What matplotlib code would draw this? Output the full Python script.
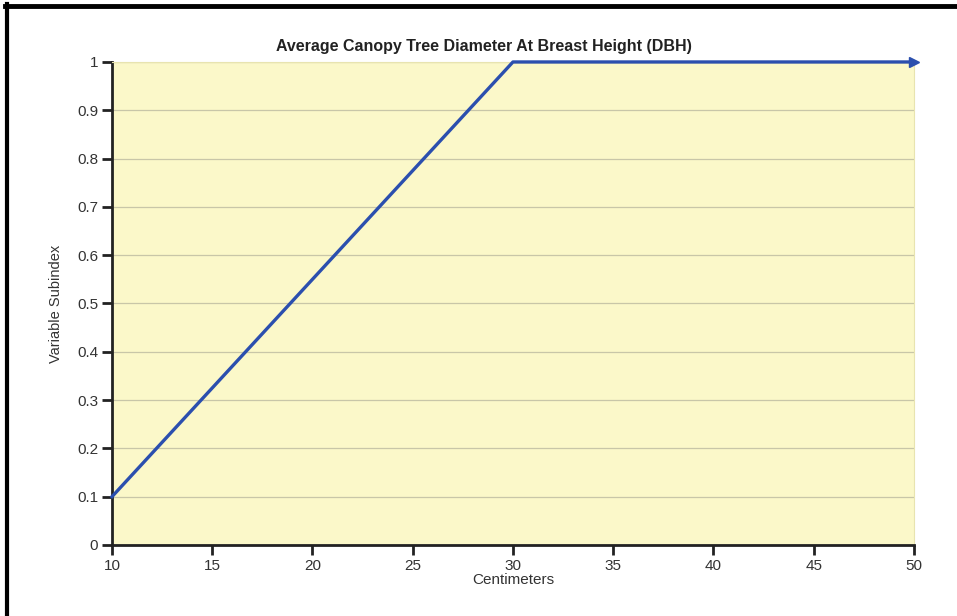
#!/usr/bin/env python3

import matplotlib.pyplot as plt
from matplotlib.lines import Line2D

# data
centimeters = [10, 30, 50]
subindex = [0.1, 1.0, 1.0]
x_ticks = [10, 15, 20, 25, 30, 35, 40, 45, 50]
y_ticks = [0, 0.1, 0.2, 0.3, 0.4, 0.5, 0.6, 0.7, 0.8, 0.9, 1]
y_labels = ["0", "0.1", "0.2", "0.3", "0.4", "0.5", "0.6", "0.7", "0.8", "0.9", "1"]


def main():
    plt.rcParams['font.family'] = ['Liberation Sans', 'DejaVu Sans']
    fig = plt.figure(figsize=(9.57, 6.16), dpi=100)
    ax = fig.add_axes([0.117, 0.1153, 0.838, 0.7841])
    ax.set_facecolor("#fbf8c9")

    # line with an arrow head on the last point
    ax.plot(centimeters, subindex, color="#2b4fae", linewidth=2.4,
            marker=">", markevery=[len(centimeters) - 1], markersize=7,
            clip_on=False, zorder=3)

    ax.set_xlim(10, 50)
    ax.set_ylim(0, 1)
    ax.set_xticks(x_ticks)
    ax.set_yticks(y_ticks)
    ax.set_yticklabels(y_labels)
    ax.grid(axis="y", color="#c8c6a8", linewidth=0.9)
    ax.set_axisbelow(True)

    for side in ["top", "right"]:
        ax.spines[side].set_color("#e8e4b0")
        ax.spines[side].set_linewidth(0.8)
    for side in ["left", "bottom"]:
        ax.spines[side].set_color("#222222")
        ax.spines[side].set_linewidth(2)
    ax.tick_params(direction="out", length=7, width=2, color="#222222",
                   labelsize=11, labelcolor="#333333", pad=3)

    ax.set_xlabel("Centimeters", fontsize=11, color="#333333", labelpad=0)
    ax.set_ylabel("Variable Subindex", fontsize=10.5, color="#333333", labelpad=10)
    ax.set_title("Average Canopy Tree Diameter At Breast Height (DBH)",
                 fontsize=11.5, fontweight="bold", color="#222222", pad=8, x=0.464)

    # black frame on top and left of the image
    fig.add_artist(Line2D([0.0068, 0.0068], [0, 0.9935], transform=fig.transFigure,
                          color="black", linewidth=3))
    fig.add_artist(Line2D([0.005, 1], [0.9895, 0.9895], transform=fig.transFigure,
                          color="black", linewidth=3.5))

    fig.savefig("out.png", dpi=100)


if __name__ == "__main__":
    main()
